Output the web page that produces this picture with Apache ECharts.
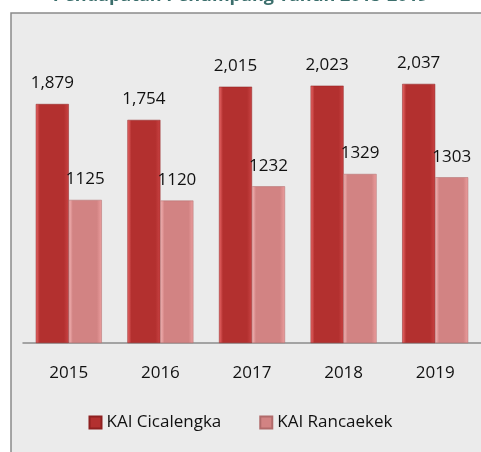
<!DOCTYPE html>
<html lang="en">
<head>
    <meta charset="utf-8" />
    <title>Penumpang KAI 2015-2019</title>
    <style>
      html, body { margin: 0; padding: 0; background: #fff; }
      #main { width: 481px; height: 452px; }
    </style>
</head>
<body>
    <div id="main"></div>
    <script src="https://cdn.jsdelivr.net/npm/echarts@6/dist/echarts.min.js"></script>
    <script>
    var years = ["2015", "2016", "2017", "2018", "2019"];
    var cicalengka = [1879, 1754, 2015, 2023, 2037];
    var rancaekek = [1125, 1120, 1232, 1329, 1303];
    var seriesNames = ["KAI Cicalengka", "KAI Rancaekek"];

    var myChart = echarts.init(document.getElementById("main"));

    // gradient kiri-kanan biar bar kelihatan timbul
    function bevel(edge, body, right) {
      return new echarts.graphic.LinearGradient(0, 0, 1, 0, [
        { offset: 0, color: edge },
        { offset: 0.12, color: body },
        { offset: 0.85, color: body },
        { offset: 1, color: right }
      ]);
    }

    var labelStyle = {
      show: true,
      position: "top",
      distance: 12,
      fontSize: 17,
      fontFamily: "Open Sans",
      color: "#111"
    };

    var option = {
        backgroundColor: "#fff",
        animation: false,
        title: {
          text: "Pendapatan Penumpang Tahun 2015-2019",
          left: "center",
          top: -18,
          textStyle: {
            fontSize: 18,
            fontWeight: "bold",
            fontFamily: "Open Sans",
            color: "#3b6e6c"
          }
        },
        graphic: [{
          type: "rect",
          z: -10,
          shape: { x: 11, y: 13, width: 480, height: 450 },
          style: { fill: "#ebebeb", stroke: "#8a8a8a", lineWidth: 1.5 }
        }],
        legend: {
          bottom: 16,
          left: "center",
          itemWidth: 12,
          itemHeight: 12,
          itemGap: 38,
          icon: "rect",
          textStyle: { fontSize: 17, fontFamily: "Open Sans", color: "#111" },
          data: seriesNames
        },
        grid: {
          left: 23,
          right: -2,
          top: 25,
          bottom: 109
        },
        xAxis: {
          type: "category",
          data: years,
          axisTick: { show: false },
          axisLine: { lineStyle: { color: "#8c8c8c", width: 1.5 } },
          axisLabel: {
            fontSize: 17,
            fontFamily: "Open Sans",
            color: "#111",
            margin: 22
          }
        },
        yAxis: {
          type: "value",
          min: 0,
          max: 2500,
          show: false,
          splitLine: { show: false }
        },
        series: [{
          name: seriesNames[0],
          type: "bar",
          data: cicalengka,
          barWidth: 33,
          barGap: "0%",
          itemStyle: {
            color: bevel("#ec6a6a", "#b3302f", "#c94343"),
            borderColor: "#8e2020",
            borderWidth: 0.5
          },
          label: Object.assign({}, labelStyle, {
            formatter: function (p) { return p.value.toLocaleString("en-US"); }
          })
        }, {
          name: seriesNames[1],
          type: "bar",
          data: rancaekek,
          barWidth: 33,
          itemStyle: {
            color: bevel("#f6b8b8", "#d28383", "#ec9e9e"),
            borderColor: "#b06a6a",
            borderWidth: 0.5
          },
          label: Object.assign({}, labelStyle, { distance: 12 })
        }]
    };
    myChart.setOption(option);
    </script>
</body>
</html>
